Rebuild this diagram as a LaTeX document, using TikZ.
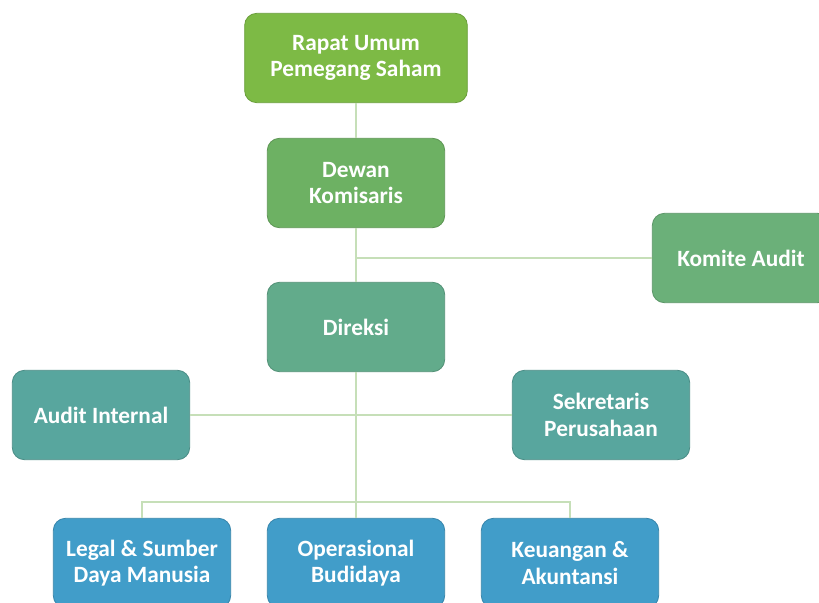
\documentclass[tikz,border=0pt]{standalone}
\usepackage{fontspec}
\setmainfont{Carlito}
\definecolor{cRups}{HTML}{7DBA45}
\definecolor{cDewan}{HTML}{6DB163}
\definecolor{cKomite}{HTML}{6BB079}
\definecolor{cDireksi}{HTML}{62AB8B}
\definecolor{cStaf}{HTML}{58A69E}
\definecolor{cDivisi}{HTML}{419DC9}
\definecolor{cGaris}{HTML}{C6DFB8}
\tikzset{
  kotak/.style={draw=#1!85!black, fill=#1, rounded corners=9pt, line width=0.6pt,
    minimum width=133pt, minimum height=67pt, align=center, text=white,
    font=\bfseries\fontsize{17.5pt}{20pt}\selectfont},
  garis/.style={draw=cGaris, line width=1.3pt}
}
\begin{document}
\begin{tikzpicture}[x=0.75pt,y=-0.75pt]
\useasboundingbox (0,0) rectangle (819,603);
\node[kotak=cRups, minimum width=167pt] (rups) at (356,58) {Rapat Umum\\Pemegang Saham};
\node[kotak=cDewan] (dewan) at (356,183) {Dewan\\Komisaris};
\node[kotak=cKomite] (komite) at (741,258) {Komite Audit};
\node[kotak=cDireksi] (direksi) at (356,327) {Direksi};
\node[kotak=cStaf] (audit) at (101,415) {Audit Internal};
\node[kotak=cStaf] (sekre) at (601,415) {Sekretaris\\Perusahaan};
\node[kotak=cDivisi] (legal) at (142,563) {Legal \& Sumber\\Daya Manusia};
\node[kotak=cDivisi] (ops) at (356,563) {Operasional\\Budidaya};
\node[kotak=cDivisi] (keu) at (570,563) {Keuangan \&\\Akuntansi};
\coordinate (bar) at (356,502);
%\draw[help lines] (0,0) grid[step=50] (819,603);
\draw[garis] (rups) -- (dewan);
\draw[garis] (dewan) -- (direksi);
\draw[garis] (komite.west) -- (komite.west -| dewan.south);
\draw[garis] (direksi) -- (ops);
\draw[garis] (audit.east) -- (sekre.west);
\draw[garis] (legal.north) |- (bar) -| (keu.north);
\end{tikzpicture}
\end{document}
